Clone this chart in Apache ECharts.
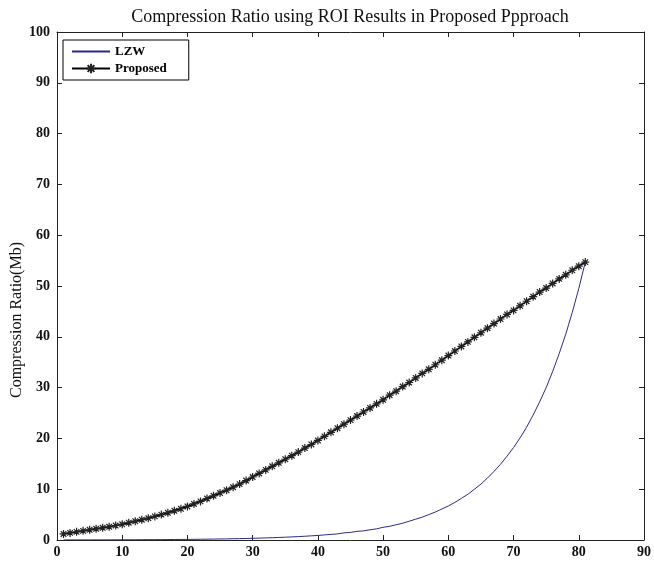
<!DOCTYPE html>
<html>
<head>
<meta charset="utf-8">
<script src="https://cdn.jsdelivr.net/npm/echarts@6/dist/echarts.min.js"></script>
<style>html,body{margin:0;padding:0;background:#fff;}#c{width:654px;height:563px;}</style>
</head>
<body>
<div id="c"></div>
<script>
const titleText = 'Compression Ratio using ROI Results in Proposed Ppproach';
const yAxisTitle = 'Compression Ratio(Mb)';
const seriesNames = ['LZW', 'Proposed'];
const xValues = [1,2,3,4,5,6,7,8,9,10,11,12,13,14,15,16,17,18,19,20,21,22,23,24,25,26,27,28,29,30,31,32,33,34,35,36,37,38,39,40,41,42,43,44,45,46,47,48,49,50,51,52,53,54,55,56,57,58,59,60,61,62,63,64,65,66,67,68,69,70,71,72,73,74,75,76,77,78,79,80,81];
const lzwValues = [0.01,0.02,0.02,0.02,0.02,0.03,0.03,0.03,0.04,0.04,0.05,0.05,0.06,0.07,0.07,0.08,0.09,0.1,0.11,0.12,0.13,0.15,0.16,0.18,0.2,0.22,0.25,0.27,0.3,0.33,0.37,0.41,0.45,0.5,0.55,0.61,0.67,0.74,0.82,0.9,1.0,1.1,1.2,1.4,1.5,1.7,1.8,2.0,2.2,2.5,2.7,3.0,3.3,3.7,4.1,4.5,5.0,5.5,6.1,6.7,7.4,8.2,9.0,10.0,11.0,12.2,13.5,14.9,16.5,18.2,20.1,22.2,24.6,27.2,30.0,33.2,36.7,40.5,44.8,49.5,54.7];
const proposedValues = [1.2,1.4,1.6,1.8,2.0,2.2,2.4,2.6,2.85,3.1,3.4,3.7,4.0,4.3,4.65,5.0,5.35,5.75,6.15,6.6,7.1,7.6,8.15,8.7,9.25,9.8,10.4,11.0,11.7,12.4,13.1,13.8,14.5,15.2,15.9,16.6,17.3,18.1,18.8,19.6,20.4,21.2,22.0,22.8,23.6,24.4,25.2,26.0,26.8,27.6,28.5,29.3,30.2,31.0,31.9,32.8,33.6,34.5,35.4,36.3,37.2,38.1,39.0,39.9,40.8,41.7,42.6,43.5,44.4,45.2,46.1,47.0,47.9,48.8,49.6,50.5,51.4,52.2,53.1,53.9,54.7];
const xTicks = {min: 0, max: 90, interval: 10};
const yTicks = {min: 0, max: 100, interval: 10};

const serif = '"Liberation Serif", "DejaVu Serif", serif';
const asterisk = 'path://M5 0L5 10M0 5L10 5M1.5 1.5L8.5 8.5M8.5 1.5L1.5 8.5';
function axisLine() { return {show: true, onZero: false, lineStyle: {color: '#222', width: 1}}; }
function tickIn() { return {show: true, inside: true, length: 5, lineStyle: {color: '#222'}}; }
function labelStyle(m) { return {margin: m, fontFamily: serif, fontWeight: 'bold', fontSize: 14, color: '#111'}; }

const chart = echarts.init(document.getElementById('c'), null, {renderer: 'canvas'});
chart.setOption({
  animation: false,
  backgroundColor: '#fff',
  title: {
    text: titleText, left: 345, top: 3, textAlign: 'center',
    textStyle: {fontFamily: serif, fontWeight: 'normal', fontSize: 18, color: '#111'}
  },
  grid: {left: 57, right: 6, top: 32, bottom: 23, containLabel: false},
  legend: {
    orient: 'vertical', left: 63, top: 40,
    data: [{name: seriesNames[0], itemStyle: {opacity: 0}}, {name: seriesNames[1]}],
    backgroundColor: '#fff', borderColor: '#000', borderWidth: 1,
    padding: [5, 22, 5, 8], itemWidth: 38, itemHeight: 12, itemGap: 4,
    textStyle: {fontFamily: serif, fontWeight: 'bold', fontSize: 13, color: '#000'}
  },
  xAxis: [
    {type: 'value', min: xTicks.min, max: xTicks.max, interval: xTicks.interval, position: 'bottom',
     axisLine: axisLine(), axisTick: tickIn(), splitLine: {show: false}, axisLabel: labelStyle(5)},
    {type: 'value', min: xTicks.min, max: xTicks.max, interval: xTicks.interval, position: 'top',
     axisLine: axisLine(), axisTick: tickIn(), splitLine: {show: false}, axisLabel: {show: false}}
  ],
  yAxis: [
    {type: 'value', min: yTicks.min, max: yTicks.max, interval: yTicks.interval, position: 'left',
     axisLine: axisLine(), axisTick: tickIn(), splitLine: {show: false}, axisLabel: labelStyle(7)},
    {type: 'value', min: yTicks.min, max: yTicks.max, interval: yTicks.interval, position: 'right',
     axisLine: axisLine(), axisTick: tickIn(), splitLine: {show: false}, axisLabel: {show: false}}
  ],
  graphic: [{
    type: 'text', x: 17, y: 320, rotation: Math.PI / 2,
    style: {text: yAxisTitle, fontFamily: serif, fontSize: 16, fill: '#111', align: 'center', verticalAlign: 'middle'}
  }],
  series: [
    {
      name: seriesNames[0], type: 'line', xAxisIndex: 0, yAxisIndex: 0,
      data: xValues.map((x, i) => [x, lzwValues[i]]),
      showSymbol: false, symbol: 'none',
      lineStyle: {color: '#2a2a86', width: 1},
      itemStyle: {color: '#2a2a86'},
      emphasis: {disabled: true}
    },
    {
      name: seriesNames[1], type: 'line', xAxisIndex: 0, yAxisIndex: 0,
      data: xValues.map((x, i) => [x, proposedValues[i]]),
      symbol: asterisk, symbolSize: 8, showAllSymbol: true,
      lineStyle: {color: '#000', width: 1.5},
      itemStyle: {color: '#000', borderColor: '#222', borderWidth: 1.2},
      emphasis: {disabled: true}
    }
  ]
});
</script>
</body>
</html>
